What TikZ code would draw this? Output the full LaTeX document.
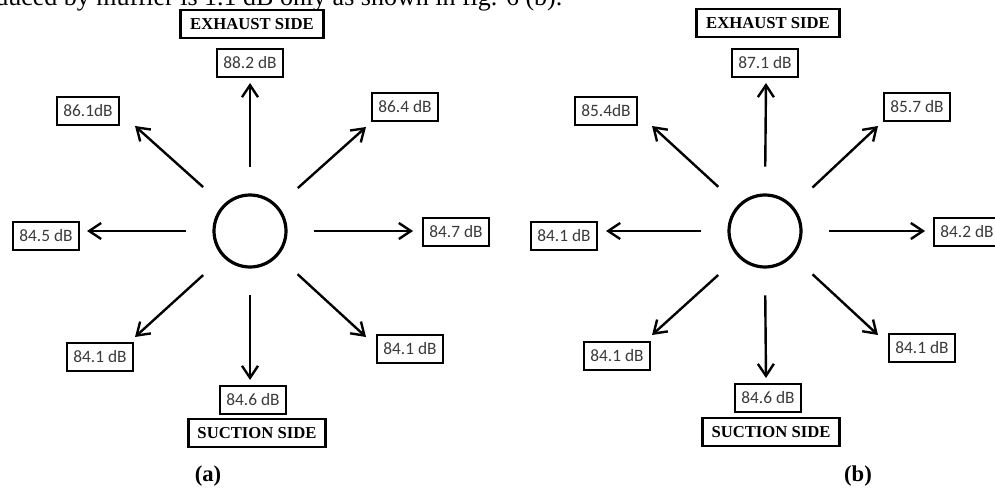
\documentclass[tikz,border=0pt]{standalone}
\usepackage{fontspec}
\setmainfont{Liberation Serif}
\newfontfamily\calfont{Carlito}
\usetikzlibrary{arrows.meta}
\definecolor{inkgray}{HTML}{3A3A3A}

\begin{document}
\begin{tikzpicture}[
  x=0.75pt, y=-0.75pt,
  val/.style  = {draw, line width=1.4pt, inner xsep=5pt, inner ysep=0pt, minimum height=20.5pt,
                 font=\calfont\fontsize{13}{13}\selectfont, text=inkgray},
  side/.style = {draw, line width=2.1pt, inner xsep=7pt, inner ysep=0pt, minimum height=21pt,
                 font=\bfseries\fontsize{12.5}{13}\selectfont},
  src/.style  = {circle, draw, line width=2.4pt, minimum size=54pt, inner sep=0pt},
  ray/.style  = {-{Straight Barb[length=9pt,width=12pt]}, line width=1.8pt, shorten <=20pt},
  figlabel/.style = {font=\bfseries\fontsize{17}{17}\selectfont},
]
\useasboundingbox (0,0) rectangle (995,488);
\clip (0,0) rectangle (995,488);

% ---------- running text cut off above the figure ------------------------------------------
\node[anchor=base west, inner sep=0pt, font=\fontsize{19.5}{19.5}\selectfont] (topline) at (-5,5.5)
     {duced by muffler is 1.1 dB only as shown in fig. 6 (b).};

% ---------- panel a : without muffler -------------------------------------------------------
\node[src]  (asrc) at (250,231) {};
\node[side] (aexh) at (252,24)  {EXHAUST SIDE};
\node[val]  (an)   at (250,63)  {88.2 dB};
\node[val]  (anw)  at (88,111)  {86.1dB};
\node[val]  (ane)  at (405,107) {86.4 dB};
\node[val]  (aw)   at (46,236)  {84.5 dB};
\node[val]  (ae)   at (456,232) {84.7 dB};
\node[val]  (asw)  at (100,357) {84.1 dB};
\node[val]  (as)   at (253,400) {84.6 dB};
\node[val]  (ase)  at (410,349) {84.1 dB};
\node[side] (asuc) at (257,433) {SUCTION SIDE};
\node[figlabel] (acap) at (208,476) {(a)};
\coordinate (tan)  at (250,83);
\coordinate (tanw) at (135,126);
\coordinate (tane) at (366,127);
\coordinate (taw)  at (87,231);
\coordinate (tae)  at (413,231);
\coordinate (tasw) at (135,337);
\coordinate (tas)  at (250,380);
\coordinate (tase) at (366,337);
\draw[ray] (asrc.90)  -- (tan);
\draw[ray] (asrc.136) -- (tanw);
\draw[ray] (asrc.42)  -- (tane);
\draw[ray] (asrc.180) -- (taw);
\draw[ray] (asrc.0)   -- (tae);
\draw[ray] (asrc.224) -- (tasw);
\draw[ray] (asrc.270) -- (tas);
\draw[ray] (asrc.318) -- (tase);

% ---------- panel b : with muffler ----------------------------------------------------------
\begin{scope}[shift={(515,0)}]
  \node[src]  (bsrc) at (250,231) {};
  \node[side] (bexh) at (253,23)  {EXHAUST SIDE};
  \node[val]  (bn)   at (250,63)  {87.1 dB};
  \node[val]  (bnw)  at (91,111)  {85.4dB};
  \node[val]  (bne)  at (402,107) {85.7 dB};
  \node[val]  (bw)   at (49,236)  {84.1 dB};
  \node[val]  (be)   at (452,232) {84.2 dB};
  \node[val]  (bsw)  at (102,356) {84.1 dB};
  \node[val]  (bs)   at (253,398) {84.6 dB};
  \node[val]  (bse)  at (407,348) {84.1 dB};
  \node[side] (bsuc) at (256,432) {SUCTION SIDE};
  \node[figlabel] (bcap) at (343,476) {(b)};
  \coordinate (tbn)  at (251,83);
  \coordinate (tbnw) at (137,126);
  \coordinate (tbne) at (363,126);
  \coordinate (tbw)  at (91,231);
  \coordinate (tbe)  at (410,231);
  \coordinate (tbsw) at (137,335);
  \coordinate (tbs)  at (251,378);
  \coordinate (tbse) at (363,335);
  \draw[ray] (bsrc.90)  -- (tbn);
  \draw[ray] (bsrc.136) -- (tbnw);
  \draw[ray] (bsrc.42)  -- (tbne);
  \draw[ray] (bsrc.180) -- (tbw);
  \draw[ray] (bsrc.0)   -- (tbe);
  \draw[ray] (bsrc.224) -- (tbsw);
  \draw[ray] (bsrc.270) -- (tbs);
  \draw[ray] (bsrc.318) -- (tbse);
\end{scope}

\end{tikzpicture}
\end{document}
